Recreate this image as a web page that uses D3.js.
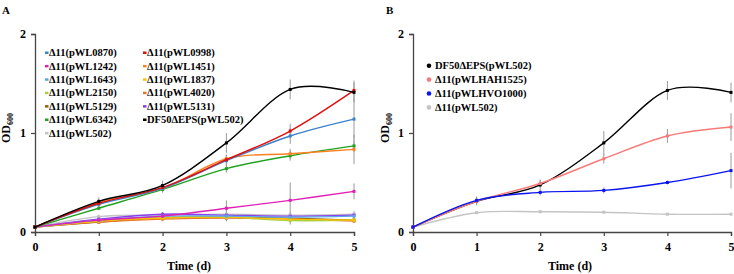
<!DOCTYPE html>
<html>
<head>
<meta charset="utf-8">
<script src="https://cdn.jsdelivr.net/npm/d3@7"></script>
<style>
  body { margin: 0; background: #fff; }
  svg text { font-family: "Liberation Serif", "Times New Roman", serif; font-weight: bold; fill: #000; }
</style>
</head>
<body>
<div id="chart"></div>
<script>
// time points (days)
const days = [0, 1, 2, 3, 4, 5];
const yTicks = [0, 1, 2];

// Panel A series
const namesA = [
  "Δ11(pWL0870)", "Δ11(pWL0998)", "Δ11(pWL1242)", "Δ11(pWL1451)",
  "Δ11(pWL1643)", "Δ11(pWL1837)", "Δ11(pWL2150)", "Δ11(pWL4020)",
  "Δ11(pWL5129)", "Δ11(pWL5131)", "Δ11(pWL6342)", "DF50ΔEPS(pWL502)",
  "Δ11(pWL502)"
];
const colorsA = [
  "#3b83c9", "#e00d0d", "#e020b4", "#ff7f1e",
  "#5aa6e6", "#ffc000", "#a8d040", "#e8742e",
  "#8c6414", "#8a3ef0", "#1fa31f", "#000000",
  "#c4c4c4"
];
const valuesA = [
  [0.05, 0.28, 0.44, 0.72, 0.97, 1.14],
  [0.05, 0.29, 0.45, 0.73, 1.02, 1.43],
  [0.05, 0.12, 0.16, 0.24, 0.32, 0.41],
  [0.05, 0.30, 0.44, 0.74, 0.79, 0.835],
  [0.05, 0.12, 0.16, 0.16, 0.15, 0.16],
  [0.05, 0.11, 0.14, 0.15, 0.13, 0.12],
  [0.05, 0.11, 0.15, 0.15, 0.115, 0.12],
  [0.05, 0.10, 0.13, 0.14, 0.13, 0.11],
  [0.05, 0.10, 0.14, 0.15, 0.14, 0.12],
  [0.05, 0.13, 0.18, 0.17, 0.16, 0.17],
  [0.05, 0.24, 0.43, 0.64, 0.77, 0.87],
  [0.05, 0.31, 0.47, 0.90, 1.44, 1.41],
  [0.05, 0.155, 0.17, 0.18, 0.17, 0.18]
];
const errorsA = [
  [0, 0.03, 0.04, 0.06, 0.08, 0.2],
  [0, 0.03, 0.04, 0.05, 0.075, 0.1],
  [0, 0.02, 0.03, 0.08, 0.18, 0.08],
  [0, 0.02, 0.03, 0.04, 0.05, 0.15],
  [0, 0.01, 0.02, 0.03, 0.03, 0.02],
  [0, 0.01, 0.02, 0.03, 0.03, 0.02],
  [0, 0.01, 0.02, 0.03, 0.04, 0.02],
  [0, 0.01, 0.02, 0.03, 0.03, 0.02],
  [0, 0.01, 0.02, 0.03, 0.03, 0.02],
  [0, 0.01, 0.02, 0.03, 0.03, 0.02],
  [0, 0.02, 0.03, 0.04, 0.05, 0.06],
  [0, 0.04, 0.05, 0.1, 0.1, 0.1],
  [0, 0.02, 0.03, 0.07, 0.03, 0.03]
];
// legend layout in panel A: column 1 then column 2 (indices into the series above)
const legendOrderA = [0, 2, 4, 6, 8, 10, 12, 1, 3, 5, 7, 9, 11];

// Panel B series
const namesB = ["DF50ΔEPS(pWL502)", "Δ11(pWLHAH1525)", "Δ11(pWLHVO1000)", "Δ11(pWL502)"];
const colorsB = ["#000000", "#f77a7a", "#0a14f0", "#c4c4c4"];
const valuesB = [
  [0.05, 0.31, 0.475, 0.90, 1.43, 1.41],
  [0.05, 0.31, 0.49, 0.74, 0.97, 1.06],
  [0.05, 0.32, 0.40, 0.42, 0.50, 0.62],
  [0.05, 0.195, 0.205, 0.20, 0.18, 0.18]
];
const errorsB = [
  [0, 0.04, 0.05, 0.12, 0.095, 0.1],
  [0, 0.03, 0.04, 0.05, 0.07, 0.14],
  [0, 0.04, 0.03, 0.03, 0.02, 0.18],
  [0, 0.01, 0.01, 0.01, 0.01, 0.01]
];

const svg = d3.select("#chart").append("svg")
  .attr("width", 734)
  .attr("height", 274);

function drawPanel(cfg) {
  const g = svg.append("g");

  const x = d3.scaleLinear().domain([0, 5]).range([cfg.x0, cfg.x1]);
  const y = d3.scaleLinear().domain([0, 2]).range([232, 34]);

  // panel letter
  g.append("text")
    .attr("x", cfg.letterX).attr("y", 14)
    .style("font-size", "11px")
    .text(cfg.letter);

  // axes
  const xAxis = g.append("g")
    .attr("transform", `translate(0,${y(0)})`)
    .call(d3.axisBottom(x).tickValues(days).tickSize(4).tickPadding(6).tickFormat(d3.format("d")));
  const yAxis = g.append("g")
    .attr("transform", `translate(${cfg.x0},0)`)
    .call(d3.axisLeft(y).tickValues(yTicks).tickSize(4).tickPadding(5).tickFormat(d3.format("d")));
  [xAxis, yAxis].forEach(a => {
    a.select(".domain").attr("stroke", "#444").attr("stroke-width", 1.3);
    a.selectAll(".tick line").attr("stroke", "#444").attr("stroke-width", 1.2);
    a.selectAll(".tick text")
      .style("font-family", "'Liberation Serif', serif")
      .style("font-weight", "bold")
      .style("font-size", "12px")
      .attr("fill", "#000");
  });

  // axis labels
  g.append("text")
    .attr("x", cfg.xLabelX).attr("y", 270)
    .attr("text-anchor", "middle")
    .style("font-size", "12px")
    .text("Time (d)");

  const yl = g.append("text")
    .attr("transform", `translate(${cfg.yLabelX},128) rotate(-90)`)
    .attr("text-anchor", "middle")
    .style("font-size", "12px");
  yl.append("tspan").text("OD");
  yl.append("tspan").attr("dy", 3).style("font-size", "8px").text("600");

  const line = d3.line()
    .x((d, i) => x(days[i]))
    .y(d => y(d))
    .curve(d3.curveCardinal.tension(0));

  // error bars first (behind lines)
  cfg.values.forEach((vals, s) => {
    g.selectAll(null)
      .data(vals.map((v, i) => ({ v, e: cfg.errors[s][i], t: days[i] })).filter(d => d.e > 0))
      .enter().append("line")
      .attr("x1", d => x(d.t)).attr("x2", d => x(d.t))
      .attr("y1", d => y(d.v - d.e)).attr("y2", d => y(d.v + d.e))
      .attr("stroke", "#9a9a9a")
      .attr("stroke-width", 1);
  });

  // lines + markers
  cfg.order.forEach(s => {
    const vals = cfg.values[s];
    g.append("path")
      .datum(vals)
      .attr("d", line)
      .attr("fill", "none")
      .attr("stroke", cfg.colors[s])
      .attr("stroke-width", 1.4);
    g.selectAll(null)
      .data(vals)
      .enter().append("rect")
      .attr("x", (d, i) => x(days[i]) - 1.5)
      .attr("y", d => y(d) - 1.5)
      .attr("width", 3).attr("height", 3)
      .attr("fill", cfg.colors[s]);
  });

  // legend
  const leg = g.append("g");
  cfg.legendOrder.forEach((s, i) => {
    const col = Math.floor(i / cfg.legRows);
    const row = i % cfg.legRows;
    const lx = cfg.legX[col];
    const ly = cfg.legY + row * cfg.legStep;
    if (cfg.dotLegend) {
      leg.append("circle").attr("cx", lx).attr("cy", ly).attr("r", 2.3).attr("fill", cfg.colors[s]);
    } else {
      leg.append("rect").attr("x", lx - 2).attr("y", ly - 1).attr("width", 3.5).attr("height", 2.5).attr("fill", cfg.colors[s]);
    }
    leg.append("text")
      .attr("x", lx + cfg.legGap).attr("y", ly)
      .attr("dy", "0.35em")
      .style("font-size", cfg.legFont)
      .text(cfg.names[s]);
  });
}

drawPanel({
  letter: "A", letterX: 2,
  x0: 35, x1: 354, xLabelX: 189, yLabelX: 10,
  names: namesA, colors: colorsA,
  values: valuesA, errors: errorsA,
  order: [12, 9, 8, 7, 6, 5, 4, 2, 10, 3, 0, 1, 11],
  legendOrder: legendOrderA,
  legRows: 7, legX: [47, 145], legY: 52.5, legStep: 13.4, legGap: 2,
  legFont: "10.5px", dotLegend: false
});

drawPanel({
  letter: "B", letterX: 386,
  x0: 413, x1: 731, xLabelX: 570, yLabelX: 389,
  names: namesB, colors: colorsB,
  values: valuesB, errors: errorsB,
  order: [3, 0, 1, 2],
  legendOrder: [0, 1, 2, 3],
  legRows: 4, legX: [429], legY: 65.7, legStep: 13.9, legGap: 6,
  legFont: "10.5px", dotLegend: true
});
</script>
</body>
</html>
